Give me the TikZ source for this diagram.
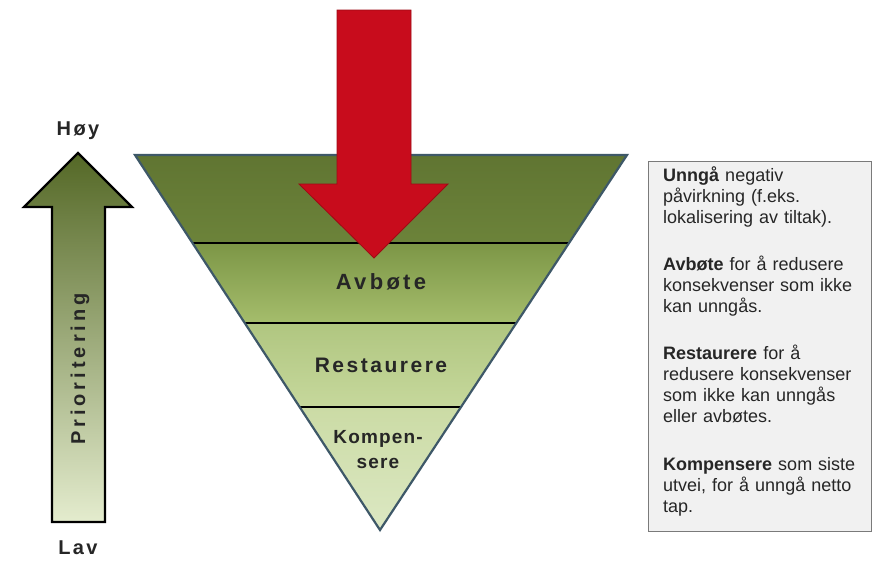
\documentclass[tikz,border=0pt]{standalone}
\usepackage{fontspec}
\setmainfont{Liberation Sans}
\newfontfamily\spacedfont[LetterSpace=12]{Liberation Sans}
\newfontfamily\widefont[LetterSpace=15]{Liberation Sans}
\newfontfamily\tightfont[LetterSpace=6]{Liberation Sans}
\newfontfamily\priofont[LetterSpace=20]{Liberation Sans}
\usetikzlibrary{calc}
\definecolor{redarrow}{HTML}{C80C1C}
\definecolor{rededge}{HTML}{9E0A14}
\definecolor{triedge}{HTML}{3E5868}
\definecolor{boxfill}{HTML}{F1F1F1}
\definecolor{boxedge}{HTML}{7A7A7A}
\tikzset{
  layerlabel/.style={font=\spacedfont\bfseries\fontsize{21}{25}\selectfont, text=black!85, align=center, inner sep=0pt},
  sidelabel/.style={font=\spacedfont\bfseries\fontsize{20}{23}\selectfont, text=black!85, inner sep=0pt},
  divider/.style={line width=2.6pt, black},
  descbox/.style={draw=boxedge, line width=1pt, fill=boxfill, anchor=north west, inner sep=0pt},
  desctext/.style={font=\fontsize{18}{21}\selectfont, text=black!85, anchor=north west, inner sep=0pt, text width=205pt, align=left}
}
\begin{document}
\begin{tikzpicture}[x=1pt,y=-1pt]
\useasboundingbox (0,0) rectangle (872,571);
\fill[white] (0,0) rectangle (872,571);

% triangle corners
\coordinate (TL) at (135,155);
\coordinate (TR) at (627,155);
\coordinate (V) at (380,530);
\coordinate (L1) at ($(TL)!0.2347!(V)$);
\coordinate (R1) at ($(TR)!0.2347!(V)$);
\coordinate (L2) at ($(TL)!0.448!(V)$);
\coordinate (R2) at ($(TR)!0.448!(V)$);
\coordinate (L3) at ($(TL)!0.672!(V)$);
\coordinate (R3) at ($(TR)!0.672!(V)$);

% layers
\shade[top color={rgb,255:red,96;green,117;blue,50}, bottom color={rgb,255:red,108;green,131;blue,58}] (TL) -- (TR) -- (R1) -- (L1) -- cycle;
\shade[top color={rgb,255:red,124;green,150;blue,70}, bottom color={rgb,255:red,165;green,189;blue,108}] (L1) -- (R1) -- (R2) -- (L2) -- cycle;
\shade[top color={rgb,255:red,176;green,198;blue,128}, bottom color={rgb,255:red,198;green,216;blue,156}] (L2) -- (R2) -- (R3) -- (L3) -- cycle;
\shade[top color={rgb,255:red,203;green,219;blue,165}, bottom color={rgb,255:red,220;green,232;blue,195}] (L3) -- (R3) -- (V) -- cycle;

\draw[divider] (L1) -- (R1);
\draw[divider] (L2) -- (R2);
\draw[divider] (L3) -- (R3);
\draw[triedge, line width=2.2pt, line join=miter] (TL) -- (TR) -- (V) -- cycle;

\node[layerlabel, font=\widefont\bfseries\fontsize{22}{25}\selectfont] (avbote) at (381,282) {Avbøte};
\node[layerlabel] (restaurere) at (381,365) {Restaurere};
\node[layerlabel, font=\tightfont\bfseries\fontsize{19}{25}\selectfont] (kompensere) at (378,450) {Kompen-\\sere};

% red arrow
\fill[redarrow, draw=rededge, line width=0.8pt, line join=miter]
  (337,10) -- (411,10) -- (411,184) -- (448,184) -- (374,258) -- (299,184) -- (337,184) -- cycle;

% left priority arrow
\shade[top color={rgb,255:red,84;green,104;blue,38}, middle color={rgb,255:red,143;green,175;blue,75}, bottom color={rgb,255:red,228;green,236;blue,206}]
  (52,522) -- (52,207) -- (24,207) -- (78,153) -- (132,207) -- (105,207) -- (105,522) -- cycle;
\draw[black, line width=2.2pt, line join=miter]
  (52,522) -- (52,207) -- (24,207) -- (78,153) -- (132,207) -- (105,207) -- (105,522) -- cycle;
\node[sidelabel, font=\priofont\bfseries\fontsize{20}{23}\selectfont, rotate=90] (prio) at (80,369) {Prioritering};
\node[sidelabel] (hoy) at (78,131) {Høy};
\node[sidelabel] (lav) at (78,548) {Lav};

% description box
\node[descbox, minimum width=223pt, minimum height=370pt] (box) at (648,161) {};
\node[desctext] (desc) at (663,164) {\rule{0pt}{17pt}\textbf{Unngå} negativ\\
påvirkning (f.eks.\\
lokalisering av tiltak).\\[26pt]
\textbf{Avbøte} for å redusere\\
konsekvenser som ikke\\
kan unngås.\\[26pt]
\textbf{Restaurere} for å\\
redusere konsekvenser\\
som ikke kan unngås\\
eller avbøtes.\\[27pt]
\textbf{Kompensere} som siste\\
utvei, for å unngå netto\\
tap.};
\end{tikzpicture}
\end{document}
